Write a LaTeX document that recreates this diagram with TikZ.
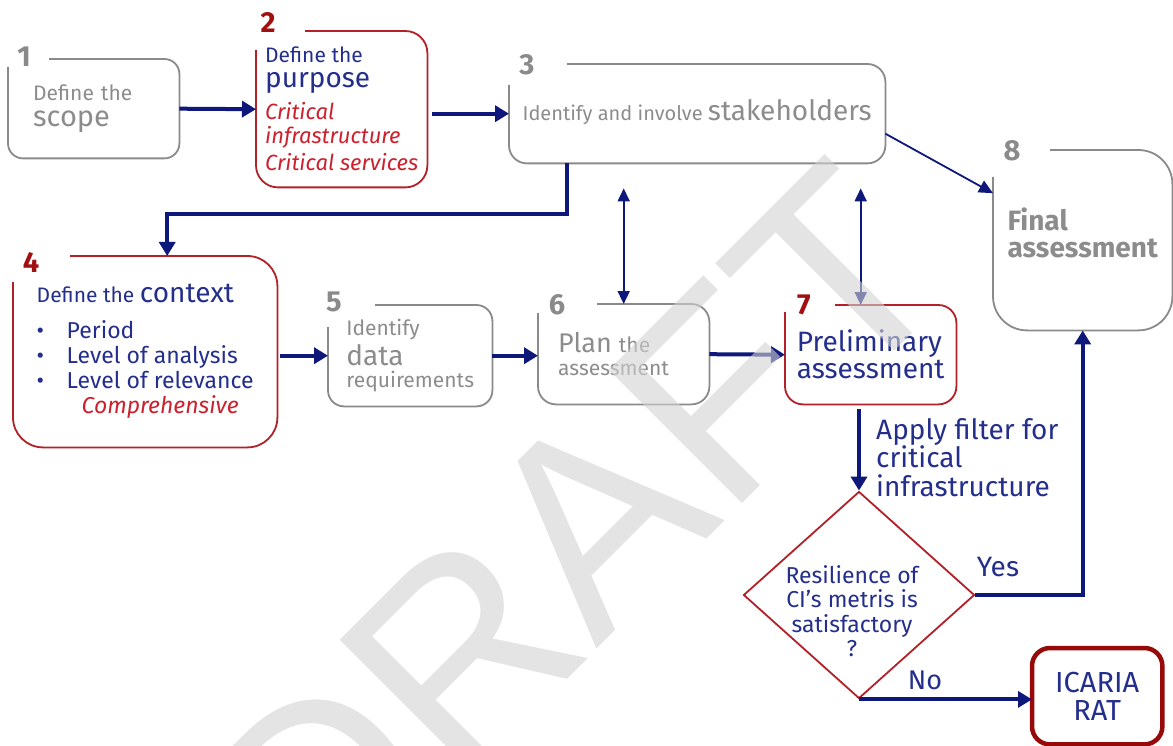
\documentclass[tikz,border=0pt]{standalone}
\usepackage{fontspec}
\setmainfont{Fira Sans}
\newfontfamily\markfont{Liberation Sans}
\usetikzlibrary{arrows.meta, shapes.geometric}

% font size and line skip in one go
\newcommand{\fsz}[2]{\fontsize{#1}{#2}\selectfont}
% open frame: node, colour, gap of top line, gap of left side, corner radius
\newcommand{\stepframe}[5]{%
  \draw[#2, line width=1.8pt, rounded corners=#5] ([xshift=#3]#1.north west) -- (#1.north east)
    -- (#1.south east) -- (#1.south west) -- ([yshift=-#4]#1.north west);
}

\begin{document}
\begin{tikzpicture}[x=1pt, y=-1pt,
    stepbox/.style={anchor=north west, inner sep=0pt, align=left},
    numgray/.style={font=\fsz{29}{29}\bfseries, text=boxgray, inner sep=0pt},
    numred/.style={font=\fsz{29}{29}\bfseries, text=numred, inner sep=0pt},
    flow/.style={arrownavy, line width=4pt, -{Triangle[length=14pt, width=16pt]}},
    link/.style={arrownavy, line width=1.8pt, {Triangle[length=13pt, width=12pt]}-{Triangle[length=13pt, width=12pt]}},
    note/.style={text=textnavy, inner sep=0pt, align=left}]
  % Define colours
  \definecolor{arrownavy}{RGB}{14,24,122}
  \definecolor{textnavy}{RGB}{36,46,140}
  \definecolor{boxgray}{RGB}{138,138,138}
  \definecolor{textgray}{RGB}{140,140,140}
  \definecolor{boxred}{RGB}{178,32,40}
  \definecolor{numred}{RGB}{160,16,16}
  \definecolor{italred}{RGB}{204,32,44}
  \definecolor{ratred}{RGB}{150,10,10}
  \useasboundingbox (0,0) rectangle (1173,746);

  % The steps
  \node[stepbox, text=textgray, font=\fsz{21}{26}, text width=121pt, inner xsep=25pt, minimum height=99pt] (scope) at (8,59)
    {Define the\\\fsz{29}{26}scope};
  \node[stepbox, text=textnavy, font=\fsz{21}{25}, minimum width=171pt, minimum height=156pt] (purpose) at (256,31)
    {Define the\\\fsz{28}{25}purpose\\[7pt]
     \fsz{22}{23}\color{italred}\itshape Critical\\[-1pt]
     \fsz{22}{23}\color{italred}\itshape infrastructure\\[2pt]
     \fsz{22}{23}\color{italred}\itshape Critical services};
  \node[stepbox, text=textgray, font=\fsz{20}{26}, minimum width=376pt, minimum height=99pt] (stake) at (509,64)
    {Identify and involve \fsz{28}{26}stakeholders\rule[-8pt]{0pt}{0pt}};
  \node[stepbox, text=textnavy, font=\fsz{23}{25}, minimum width=264pt, minimum height=191pt] (context) at (13,256)
    {\fsz{21}{25}Define the \fsz{28}{25}context\\[11pt]
     \makebox[30pt][l]{•}Period\\
     \makebox[30pt][l]{•}Level of analysis\\
     \makebox[30pt][l]{•}Level of relevance\\
     \hspace{45pt}\color{italred}\itshape Comprehensive};
  \node[stepbox, text=textgray, font=\fsz{21}{25}, minimum width=164pt, minimum height=101pt] (data) at (328,305)
    {Identify\\[4pt]\fsz{28}{26}data\\[-3pt]requirements};
  \node[stepbox, text=textgray, font=\fsz{21}{23}, text width=131pt, inner xsep=20pt, minimum height=100pt] (plan) at (538,304)
    {\fsz{27}{24}Plan \fsz{21}{24}the\\assessment};
  \node[stepbox, text=textnavy, font=\fsz{28}{27}, minimum width=171pt, minimum height=99pt] (prelim) at (785,305)
    {Preliminary\\assessment};
  \node[stepbox, text=textgray, font=\fsz{28}{27}\bfseries, minimum width=179pt, minimum height=180pt] (final) at (993,150)
    {Final\\assessment\rule[-16pt]{0pt}{0pt}};
  \node[stepbox, text=textnavy, font=\fsz{29}{28}, align=center, minimum width=130pt, minimum height=96pt] (icaria) at (1032,648)
    {ICARIA\\RAT};
  \node[draw=boxred, line width=1.8pt, diamond, inner sep=0pt, minimum width=231pt, minimum height=207pt,
    label={[note, font=\fsz{23}{24.5}, align=center, shift={(-7,16)}]center:Resilience of\\CI’s metris is\\satisfactory\\?}]
    (check) at (859,595) {};

  % Draw the open frames
  \stepframe{scope}{boxgray}{41}{8}{15}
  \stepframe{purpose}{boxred}{49}{19}{22}
  \stepframe{stake}{boxgray}{58}{21}{18}
  \stepframe{context}{boxred}{57}{26}{30}
  \stepframe{data}{boxgray}{47}{22}{16}
  \stepframe{plan}{boxgray}{59}{9}{18}
  \stepframe{prelim}{boxred}{50}{7}{18}
  \stepframe{final}{boxgray}{57}{27}{34}
  \draw[ratred, line width=4.5pt, rounded corners=18] (icaria.south west) rectangle (icaria.north east);

  % Step numbers
  \node[numgray] (n1) at ([shift={(16,-2)}]scope.north west) {1};
  \node[numred] (n2) at ([shift={(12,-9)}]purpose.north west) {2};
  \node[numgray] (n3) at ([shift={(18,1)}]stake.north west) {3};
  \node[numred] (n4) at ([shift={(18,6)}]context.north west) {4};
  \node[numgray] (n5) at ([shift={(6,-3)}]data.north west) {5};
  \node[numgray] (n6) at ([shift={(19,1)}]plan.north west) {6};
  \node[numred] (n7) at ([shift={(19,0)}]prelim.north west) {7};
  \node[numgray] (n8) at ([shift={(19,1)}]final.north west) {8};

  % Draw the connectors
  \draw[flow] (scope.east) -- (purpose.west);
  \draw[flow] ([xshift=5]purpose.east |- stake.west) -- (stake.west);
  \draw[flow] ([xshift=-130]stake.south) -- ++(0,51) -| ([xshift=22]context.north);
  \draw[arrownavy, line width=1.8pt, -{Triangle[length=14pt, width=13pt]}] ([yshift=-20]stake.east) -- ([yshift=47]final.west);
  \draw[link] ([yshift=-25]stake.south -| plan.north) -- (plan.north);
  \draw[link] ([yshift=-25, xshift=-10]stake.south -| prelim.north) -- ([xshift=-10]prelim.north);
  \draw[flow] ([xshift=3]context.east |- data.west) -- (data.west);
  \draw[flow] (data.east) -- (data.east -| plan.west);
  \draw[flow] (plan.east) -- (prelim.west);
  \draw[flow] ([yshift=-5]check.north |- prelim.south) -- (check.north);
  \draw[flow] (check.east) -| (final.south);
  \draw[flow] (check.south) -- (check.south -| icaria.west);

  % Labels on the connectors
  \node[note, font=\fsz{28}{28.5}, anchor=north west] (filter) at (876,418)
    {Apply filter for\\critical\\infrastructure};
  \node[note, font=\fsz{28}{28}] (yes) at (998,567) {Yes};
  \node[note, font=\fsz{27}{27}] (no) at (925,680) {No};

  % Watermark
  \node[text={rgb,255:red,210;green,210;blue,210}, text opacity=0.6, rotate=45, anchor=base, inner sep=0pt,
    font=\markfont\fsz{274}{274}] (draft) at (640,606) {DRAFT};
\end{tikzpicture}
\end{document}
